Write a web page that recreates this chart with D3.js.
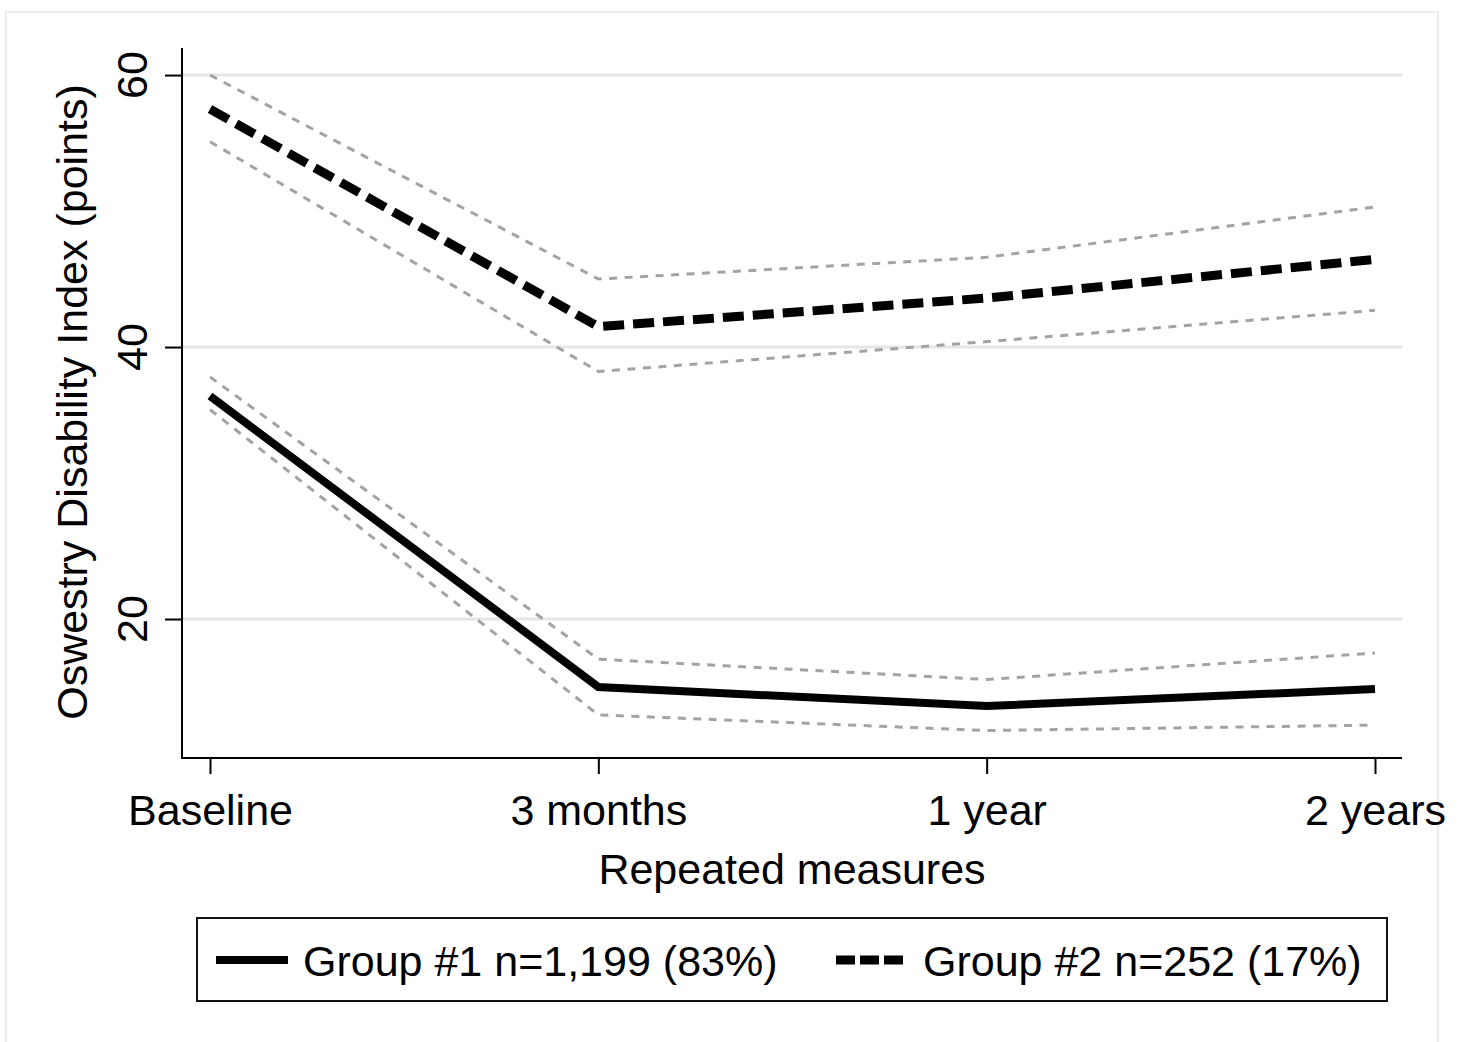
<!DOCTYPE html>
<html>
<head>
<meta charset="utf-8">
<script src="https://cdn.jsdelivr.net/npm/d3@7"></script>
<style>
  html, body { margin: 0; padding: 0; background: #fff; }
  svg { display: block; font-family: "Liberation Sans", Arial, sans-serif; }
</style>
</head>
<body>
<svg id="chart" width="1462" height="1042"></svg>
<script>
// ---- data ----
const categories = ["Baseline", "3 months", "1 year", "2 years"];
const group1Mean  = [36.4, 15.0, 13.6, 14.85];
const group1Upper = [37.8, 17.05, 15.55, 17.5];
const group1Lower = [35.4, 12.95, 11.8, 12.2];
const group2Mean  = [57.5, 41.5, 43.6, 46.45];
const group2Upper = [60.0, 45.0, 46.6, 50.3];
const group2Lower = [55.1, 38.2, 40.4, 42.7];
const yTicks = [20, 40, 60];
const legendLabels = ["Group #1 n=1,199 (83%)", "Group #2 n=252 (17%)"];
const xTitle = "Repeated measures";
const yTitle = "Oswestry Disability Index (points)";

const svg = d3.select("#chart");
const FONT = 43;

// outer frame
svg.append("rect").attr("x", 6).attr("y", 12).attr("width", 1432).attr("height", 1045)
  .attr("fill", "none").attr("stroke", "#ececec").attr("stroke-width", 2);

const plotL = 182, plotR = 1402, plotT = 48, plotB = 758;
const x = d3.scalePoint().domain(categories).range([210, 1375]);
const y = d3.scaleLinear().domain([9.78, 61.99]).range([plotB, plotT]);

// gridlines
svg.append("g").selectAll("line").data(yTicks).join("line")
  .attr("x1", plotL).attr("x2", plotR)
  .attr("y1", d => y(d)).attr("y2", d => y(d))
  .attr("stroke", "#e6e6e6").attr("stroke-width", 3);

// lines
const line = d3.line().x((d, i) => x(categories[i])).y(d => y(d));
const ciStyle = sel => sel.attr("fill", "none").attr("stroke", "#a3a3a3")
  .attr("stroke-width", 3).attr("stroke-dasharray", "8,7.5");

[group1Upper, group1Lower, group2Upper, group2Lower].forEach(arr => {
  svg.append("path").datum(arr).attr("d", line).call(ciStyle);
});
svg.append("path").datum(group1Mean).attr("d", line)
  .attr("fill", "none").attr("stroke", "#000").attr("stroke-width", 8)
  .attr("stroke-linejoin", "miter");
svg.append("path").datum(group2Mean).attr("d", line)
  .attr("fill", "none").attr("stroke", "#000").attr("stroke-width", 9)
  .attr("stroke-dasharray", "21,9");

// y axis
const yAxis = svg.append("g").attr("transform", `translate(${plotL},0)`)
  .call(d3.axisLeft(y).tickValues(yTicks).tickSize(17).tickSizeOuter(0));
yAxis.select(".domain").remove();
yAxis.selectAll(".tick line").attr("stroke", "#000").attr("stroke-width", 2);
yAxis.selectAll(".tick text").remove();
svg.append("line").attr("x1", plotL).attr("x2", plotL).attr("y1", plotT).attr("y2", plotB + 1)
  .attr("stroke", "#000").attr("stroke-width", 2);
svg.append("g").selectAll("text").data(yTicks).join("text")
  .attr("transform", d => `translate(147,${y(d)}) rotate(-90)`)
  .attr("text-anchor", "middle").attr("font-size", FONT).attr("fill", "#000")
  .text(d => d);

// x axis
const xAxis = svg.append("g").attr("transform", `translate(0,${plotB})`)
  .call(d3.axisBottom(x).tickSize(16).tickSizeOuter(0));
xAxis.select(".domain").remove();
xAxis.selectAll(".tick line").attr("stroke", "#000").attr("stroke-width", 2);
xAxis.selectAll(".tick text").attr("font-size", FONT).attr("fill", "#000")
  .attr("font-family", "Liberation Sans, Arial, sans-serif")
  .attr("dy", null).attr("y", 67);
svg.append("line").attr("x1", plotL - 1).attr("x2", plotR).attr("y1", plotB).attr("y2", plotB)
  .attr("stroke", "#000").attr("stroke-width", 2);
svg.selectAll("g text").attr("font-family", "Liberation Sans, Arial, sans-serif");

// titles
svg.append("text").attr("x", 792).attr("y", 884).attr("text-anchor", "middle")
  .attr("font-size", FONT).text(xTitle);
svg.append("text").attr("transform", "translate(87,402) rotate(-90)")
  .attr("text-anchor", "middle").attr("font-size", FONT).text(yTitle);

// legend
svg.append("rect").attr("x", 197).attr("y", 918).attr("width", 1190).attr("height", 83)
  .attr("fill", "#fff").attr("stroke", "#111").attr("stroke-width", 2);
const legendItems = [
  { label: legendLabels[0], x0: 216, dash: null, w: 8 },
  { label: legendLabels[1], x0: 836, dash: "19,5", w: 9 }
];
legendItems.forEach(it => {
  const l = svg.append("line").attr("x1", it.x0).attr("x2", it.x0 + 72)
    .attr("y1", 960).attr("y2", 960).attr("stroke", "#000").attr("stroke-width", it.w);
  if (it.dash) l.attr("stroke-dasharray", it.dash);
  svg.append("text").attr("x", it.x0 + 87).attr("y", 976)
    .attr("font-size", FONT).text(it.label);
});
</script>
</body>
</html>
